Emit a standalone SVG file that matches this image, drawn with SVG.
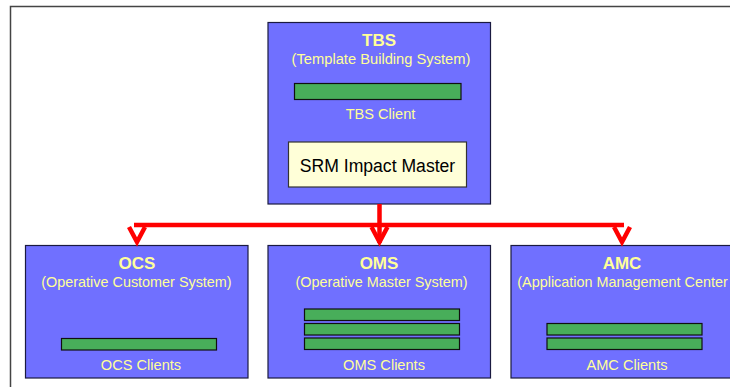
<svg xmlns="http://www.w3.org/2000/svg" width="730" height="387" viewBox="0 0 730 387">
<style>
text{font-family:"Liberation Sans",Arial,sans-serif;text-anchor:middle;fill:#ffff99}
.box{fill:#7070ff;stroke:#1a1a40;stroke-width:1.2}
.bar{fill:#48ae5a;stroke:#101010;stroke-width:1.2}
.t{font-size:17px;font-weight:bold}
.s{font-size:14.4px}
.c{font-size:14.6px}
.conn{fill:none;stroke:#ff0000;stroke-width:4.500}
.frame{fill:none;stroke:#444;stroke-width:1.500}
</style>
<rect width="730" height="387" fill="#fff"/>
<path class="frame" d="M730 6.500H10.500V387"/>
<g id="tbs">
<rect class="box" x="268" y="22.500" width="222.500" height="181.500"/>
<text class="t" x="379" y="45.500">TBS</text>
<text class="s" x="381" y="64" style="font-size:14.7px">(Template Building System)</text>
<rect class="bar" x="294.500" y="83.500" width="166.500" height="16"/>
<text class="c" x="380.500" y="119">TBS Client</text>
<rect x="288.500" y="142" width="178" height="45" fill="#ffffd8" stroke="#333" stroke-width="1.2"/>
<text x="377.500" y="172" font-size="17.600" style="fill:#000">SRM Impact Master</text>
</g>
<g id="ocs">
<rect class="box" x="25.500" y="245.500" width="222.500" height="132.500"/>
<text class="t" x="137" y="268.500">OCS</text>
<text class="s" x="136.500" y="287">(Operative Customer System)</text>
<rect class="bar" x="61.500" y="338.500" width="155" height="11.500"/>
<text class="c" x="141" y="370">OCS Clients</text>
</g>
<g id="oms">
<rect class="box" x="268" y="245.500" width="222.500" height="132.500"/>
<text class="t" x="379" y="268.500">OMS</text>
<text class="s" x="381.500" y="287">(Operative Master System)</text>
<rect class="bar" x="304.500" y="309" width="155" height="11.500"/>
<rect class="bar" x="304.500" y="323.500" width="155" height="11.500"/>
<rect class="bar" x="304.500" y="338" width="155" height="11.500"/>
<text class="c" x="384" y="369.500">OMS Clients</text>
</g>
<g id="amc">
<rect class="box" x="511" y="245.500" width="222" height="132.500"/>
<text class="t" x="622" y="268.500">AMC</text>
<text class="s" x="622.500" y="287">(Application Management Center</text>
<rect class="bar" x="547" y="323.500" width="155" height="11.500"/>
<rect class="bar" x="547" y="338" width="155" height="11.500"/>
<text class="c" x="627" y="369.500">AMC Clients</text>
</g>
<g id="connectors">
<path class="conn" d="M379.500 204V243M134 225H624"/>
<path class="conn" d="M129 227L137 242L145 227"/>
<path class="conn" d="M371.500 227L379.500 242L387.500 227"/>
<path class="conn" d="M614 227L622 242L630 227"/>
</g>
</svg>
